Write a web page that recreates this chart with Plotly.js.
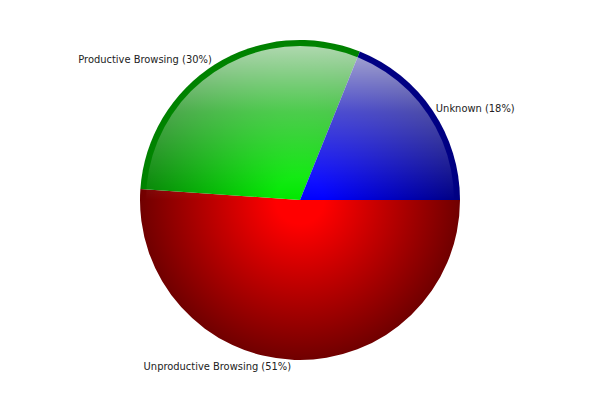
<!DOCTYPE html>
<html>
<head>
<meta charset="utf-8">
<script src="https://cdn.plot.ly/plotly-3.0.1.min.js"></script>
<style>
body{margin:0;background:#fff;}
#pie{width:600px;height:400px;}
</style>
</head>
<body>
<div id="pie"></div>
<script>
// slice data (drawn clockwise from 3 o'clock)
var sliceNames=['Unproductive Browsing','Productive Browsing','Unknown'];
var sliceValues=[51.1,30.0,18.9];
var sliceColors=['#ff0000','#00e800','#0000ff'];
var sliceEdges=['#700000','#008000','#000080'];

function disp_pie(chartname)
{
	var total=0;
	for (var i=0;i<sliceValues.length;i++){ total+=sliceValues[i]; }
	var txt=[];
	for (var i=0;i<sliceValues.length;i++){
		txt.push(sliceNames[i]+' ('+Math.floor(sliceValues[i]/total*100)+'%)');
	}
	var PLOTMASTER=document.getElementById(chartname);
	var data=[{
		type:'pie',
		labels:sliceNames,
		values:sliceValues,
		text:txt,
		texttemplate:'%{text}',
		textinfo:'text',
		textposition:'outside',
		sort:false,
		direction:'clockwise',
		rotation:90,
		hoverinfo:'none',
		marker:{colors:sliceColors,line:{width:0}},
		outsidetextfont:{family:'DejaVu Sans Condensed, DejaVu Sans, sans-serif',size:11,color:'#222'}
	}];
	var layout={
		width:600,
		height:400,
		margin:{l:140,r:140,t:40,b:40},
		showlegend:false,
		paper_bgcolor:'#fff'
	};
	Plotly.newPlot(PLOTMASTER,data,layout,{staticPlot:true}).then(function(gd){ shade(gd); });
}

// radial shading per slice + glossy top highlight
function shade(gd)
{
	var ns='http://www.w3.org/2000/svg';
	var cd0=gd.calcdata[0][0];
	var cx=cd0.cx, cy=cd0.cy, r=cd0.r;
	var svg=gd.querySelector('.main-svg');
	var defs=svg.querySelector('defs');
	function stop(g,off,col,op){
		var s=document.createElementNS(ns,'stop');
		s.setAttribute('offset',off);
		s.setAttribute('stop-color',col);
		if(op!=null) s.setAttribute('stop-opacity',op);
		g.appendChild(s);
	}
	for (var i=0;i<sliceColors.length;i++){
		var g=document.createElementNS(ns,'radialGradient');
		g.setAttribute('id','sl'+i);
		g.setAttribute('gradientUnits','userSpaceOnUse');
		g.setAttribute('cx',cx);g.setAttribute('cy',cy);g.setAttribute('r',r);
		stop(g,0,sliceColors[i]);
		stop(g,0.15,sliceColors[i]);
		stop(g,1,sliceEdges[i]);
		defs.appendChild(g);
	}
	var lg=document.createElementNS(ns,'linearGradient');
	lg.setAttribute('id','gloss');
	lg.setAttribute('gradientUnits','userSpaceOnUse');
	lg.setAttribute('x1',0);lg.setAttribute('x2',0);
	lg.setAttribute('y1',cy-r);lg.setAttribute('y2',cy);
	stop(lg,0,'#ffffff',0.72);
	stop(lg,0.45,'#ffffff',0.3);
	stop(lg,1,'#ffffff',0);
	defs.appendChild(lg);

	var paths=gd.querySelectorAll('g.slice path.surface');
	for (var i=0;i<paths.length;i++){
		paths[i].style.fill='url(#sl'+i+')';
	}
	var layer=paths[0].parentNode.parentNode;
	var c=document.createElementNS(ns,'circle');
	c.setAttribute('cx',cx);c.setAttribute('cy',cy);c.setAttribute('r',r-6);
	c.setAttribute('fill','url(#gloss)');
	layer.appendChild(c);
}

disp_pie('pie');
</script>
</body>
</html>
